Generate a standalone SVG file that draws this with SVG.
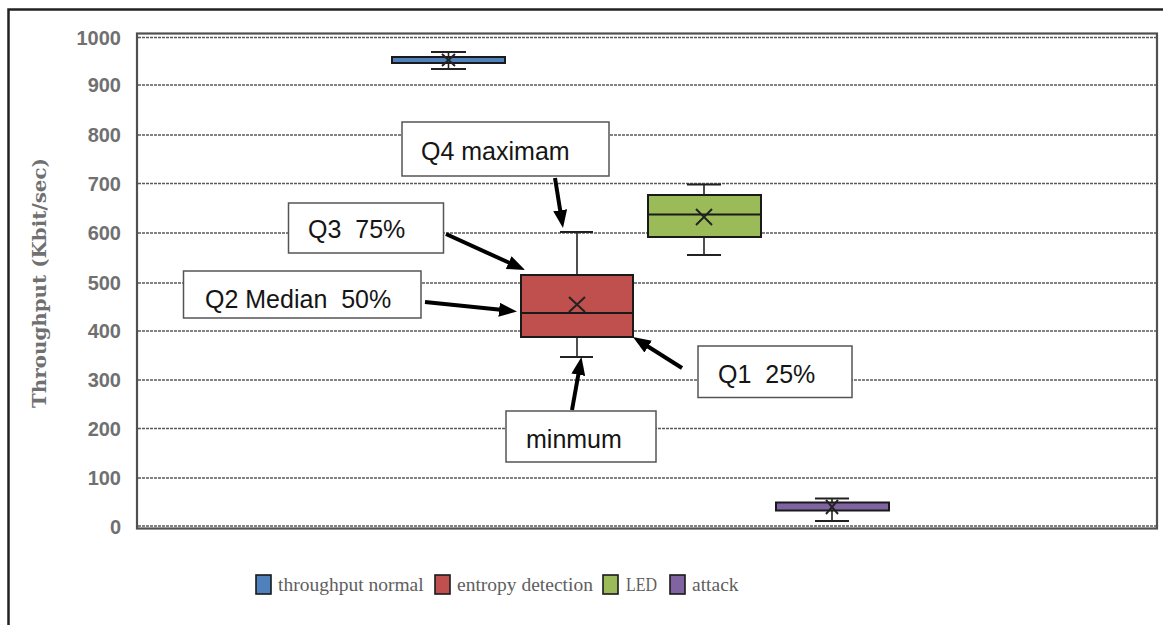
<svg xmlns="http://www.w3.org/2000/svg" width="1163" height="625" viewBox="0 0 1163 625">
<style>
.grid{stroke:#5a5a5a;stroke-width:1.3;stroke-dasharray:3 1;fill:none}
.tick{font-family:"Liberation Sans",Arial,sans-serif;font-weight:bold;font-size:20px;fill:#707070;text-anchor:end}
.box{stroke:#1a1a1a;stroke-width:2}
.wh{stroke:#222;stroke-width:1.6;fill:none}
.cap{stroke:#222;stroke-width:2.2;fill:none}
.xm{stroke:#222;stroke-width:2;fill:none}
.lbl{fill:#fff;stroke:#555;stroke-width:1.5}
.lt{font-family:"Liberation Sans",Arial,sans-serif;font-size:25px;fill:#151515}
.arr{stroke:#000;stroke-width:4;fill:none;marker-end:url(#ah)}
.leg{font-family:"Liberation Serif","Times New Roman",serif;font-size:19.5px;fill:#5e5e5e}
.ls{stroke:#1a1a1a;stroke-width:1.6}
</style>
<defs>
<marker id="ah" markerUnits="userSpaceOnUse" markerWidth="18" markerHeight="14" viewBox="0 0 18 14" refX="4" refY="7" orient="auto">
<path d="M0,0 L18,7 L0,14 z" fill="#000"/>
</marker>
</defs>
<rect width="1163" height="625" fill="#fff"/>
<g id="frame">
<path d="M8.5,625 V9.5 H1163" fill="none" stroke="#222" stroke-width="2.5"/>
</g>
<g id="plot">
<g id="gridlines">
<line class="grid" x1="138" y1="37.5" x2="1156" y2="37.5"/>
<line class="grid" x1="138" y1="85" x2="1156" y2="85"/>
<line class="grid" x1="138" y1="135" x2="1156" y2="135"/>
<line class="grid" x1="138" y1="183.5" x2="1156" y2="183.5"/>
<line class="grid" x1="138" y1="233" x2="1156" y2="233"/>
<line class="grid" x1="138" y1="283" x2="1156" y2="283"/>
<line class="grid" x1="138" y1="331" x2="1156" y2="331"/>
<line class="grid" x1="138" y1="380" x2="1156" y2="380"/>
<line class="grid" x1="138" y1="428.5" x2="1156" y2="428.5"/>
<line class="grid" x1="138" y1="478" x2="1156" y2="478"/>
<line class="grid" x1="138" y1="526" x2="1156" y2="526"/>
</g>
<rect x="137" y="33.5" width="1020" height="495" fill="none" stroke="#505050" stroke-width="2.2"/>
<g id="yticks">
<text class="tick" x="121" y="45">1000</text>
<text class="tick" x="121" y="92">900</text>
<text class="tick" x="121" y="142">800</text>
<text class="tick" x="121" y="190.5">700</text>
<text class="tick" x="121" y="240">600</text>
<text class="tick" x="121" y="290">500</text>
<text class="tick" x="121" y="338">400</text>
<text class="tick" x="121" y="387">300</text>
<text class="tick" x="121" y="435.5">200</text>
<text class="tick" x="121" y="485">100</text>
<text class="tick" x="121" y="534">0</text>
</g>
<text id="ytitle" transform="translate(46,283) rotate(-90)" text-anchor="middle" font-family="'DejaVu Serif','Liberation Serif',serif" font-weight="bold" font-size="19" fill="#707070" textLength="250" lengthAdjust="spacingAndGlyphs">Throughput (Kbit/sec)</text>
</g>
<g id="box-normal">
<line class="wh" x1="448.5" y1="52" x2="448.5" y2="69"/>
<line class="cap" x1="431" y1="52" x2="466" y2="52"/>
<line class="cap" x1="431" y1="69" x2="466" y2="69"/>
<rect class="box" x="392" y="57" width="113" height="6" fill="#4f81bd"/>
<path class="xm" d="M442,54 L455,66 M455,54 L442,66"/>
</g>
<g id="box-entropy">
<line class="wh" x1="577" y1="232" x2="577" y2="357"/>
<line class="cap" x1="560" y1="232" x2="593" y2="232"/>
<line class="cap" x1="560" y1="357" x2="593" y2="357"/>
<rect class="box" x="521" y="275" width="112" height="62" fill="#c0504d"/>
<line class="box" x1="521" y1="313" x2="633" y2="313"/>
<path class="xm" d="M569,297 L585,312 M585,297 L569,312"/>
</g>
<g id="box-led">
<line class="wh" x1="704" y1="184.5" x2="704" y2="255"/>
<line class="cap" x1="687" y1="184.5" x2="721" y2="184.5"/>
<line class="cap" x1="687" y1="255" x2="721" y2="255"/>
<rect class="box" x="648" y="195" width="113" height="42" fill="#9bbb59"/>
<line class="box" x1="648" y1="214.5" x2="761" y2="214.5"/>
<path class="xm" d="M696,209 L712,225 M712,209 L696,225"/>
</g>
<g id="box-attack">
<line class="wh" x1="832" y1="498.5" x2="832" y2="521"/>
<line class="cap" x1="815" y1="498.5" x2="849" y2="498.5"/>
<line class="cap" x1="815" y1="521" x2="849" y2="521"/>
<rect class="box" x="776" y="502.5" width="113" height="8" fill="#8064a2"/>
<path class="xm" d="M826,500 L838,514 M838,500 L826,514"/>
</g>
<g id="label-q4">
<rect class="lbl" x="402" y="122" width="207" height="54"/>
<text class="lt" x="421" y="160">Q4 maximam</text>
</g>
<g id="label-q3">
<rect class="lbl" x="288.5" y="203" width="155" height="50"/>
<text class="lt" x="308" y="238" xml:space="preserve">Q3  75%</text>
</g>
<g id="label-q2">
<rect class="lbl" x="183.5" y="271" width="237.5" height="47"/>
<text class="lt" x="205" y="308" xml:space="preserve">Q2 Median  50%</text>
</g>
<g id="label-q1">
<rect class="lbl" x="698" y="346" width="154" height="51.5"/>
<text class="lt" x="718" y="383" xml:space="preserve">Q1  25%</text>
</g>
<g id="label-min">
<rect class="lbl" x="506" y="411" width="150" height="51"/>
<text class="lt" x="526" y="448">minmum</text>
</g>
<g id="connectors">
<line class="arr" x1="555" y1="178" x2="560.8" y2="214.2"/>
<line class="arr" x1="446" y1="234" x2="512.3" y2="264.2"/>
<line class="arr" x1="425" y1="302" x2="503.1" y2="310.1"/>
<line class="arr" x1="682" y1="368" x2="644.8" y2="344.5"/>
<line class="arr" x1="572" y1="410" x2="579" y2="370.8"/>
</g>
<g id="legend">
<rect class="ls" x="256" y="575" width="15" height="19" fill="#4f81bd"/>
<text class="leg" x="278" y="591">throughput normal</text>
<rect class="ls" x="435" y="575" width="15" height="19" fill="#c0504d"/>
<text class="leg" x="457" y="591">entropy detection</text>
<rect class="ls" x="603" y="575" width="15" height="19" fill="#9bbb59"/>
<text class="leg" x="626" y="591" textLength="31" lengthAdjust="spacingAndGlyphs">LED</text>
<rect class="ls" x="670" y="575" width="15" height="19" fill="#8064a2"/>
<text class="leg" x="692" y="591">attack</text>
</g>
</svg>
